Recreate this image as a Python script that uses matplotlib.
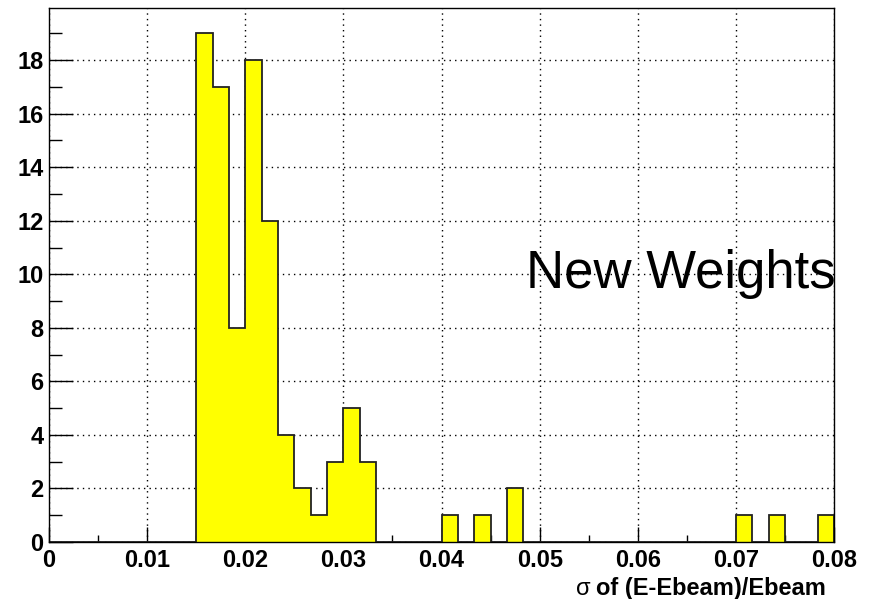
import numpy as np
import matplotlib.pyplot as plt
from matplotlib.ticker import MultipleLocator

# 48 bins from 0 to 0.08
x_min = 0.0
x_max = 0.08
n_bins = 48
counts = [0, 0, 0, 0, 0, 0, 0, 0, 0,
          19, 17, 8, 18, 12, 4, 2, 1, 3, 5, 3,
          0, 0, 0, 0, 1, 0, 1, 0, 2,
          0, 0, 0, 0, 0, 0, 0, 0, 0, 0, 0, 0, 0,
          1, 0, 1, 0, 0, 1]
x_ticks = [0, 0.01, 0.02, 0.03, 0.04, 0.05, 0.06, 0.07, 0.08]
x_tick_labels = ['0', '0.01', '0.02', '0.03', '0.04', '0.05', '0.06', '0.07', '0.08']
label_text = 'New Weights'
x_title = 'of (E-Ebeam)/Ebeam'

plt.rcParams['font.family'] = ['Liberation Sans', 'DejaVu Sans']

edges = np.linspace(x_min, x_max, n_bins + 1)

fig = plt.figure(figsize=(8.75, 5.99), dpi=100)
ax = fig.add_axes([49/875, 57/599, 785/875, 534/599])

ax.stairs(counts, edges, fill=True, facecolor='#ffff00', edgecolor='none', zorder=2)
ax.stairs(counts, edges, color='#222222', linewidth=1.3, zorder=3)

ax.set_xlim(x_min, x_max)
ax.set_ylim(0, 19.95)

ax.set_xticks(x_ticks)
ax.set_xticklabels(x_tick_labels)
ax.xaxis.set_minor_locator(MultipleLocator(0.005))
ax.yaxis.set_major_locator(MultipleLocator(2))
ax.yaxis.set_minor_locator(MultipleLocator(1))

ax.tick_params(which='both', direction='in', top=False, right=False, colors='black', width=1)
ax.tick_params(axis='y', which='major', length=17, labelsize=17, pad=4)
ax.tick_params(axis='y', which='minor', length=9)
ax.tick_params(axis='x', which='major', length=11, labelsize=17, pad=5)
ax.tick_params(axis='x', which='minor', length=5)
for lab in ax.get_xticklabels() + ax.get_yticklabels():
    lab.set_fontweight('bold')

ax.grid(True, which='major', linestyle=(0, (1, 3)), color='black', linewidth=1, zorder=1)
for s in ax.spines.values():
    s.set_linewidth(1)
    s.set_zorder(4)

ax.text(1.002, 0.476, label_text, transform=ax.transAxes, ha='right', va='baseline',
        fontsize=38, zorder=5)
t = ax.text(0.99, -0.065, x_title, transform=ax.transAxes, ha='right', va='top',
            fontsize=17, fontweight='bold')
ax.annotate('σ', xy=(0, 0), xycoords=t, xytext=(-4, 0), textcoords='offset points',
            ha='right', va='bottom', fontsize=17)

fig.savefig('out.png', dpi=100)
